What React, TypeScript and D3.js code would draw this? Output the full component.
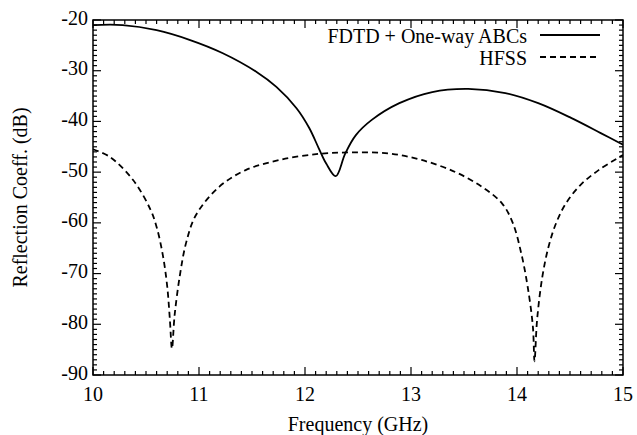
import React from "react";
import * as d3 from "d3";

const fdtdFreq = [10.0, 10.28, 10.6, 10.91, 11.22, 11.54, 11.73, 11.92, 12.04, 12.13, 12.2, 12.29, 12.38, 12.48, 12.63, 12.89, 13.2, 13.54, 13.89, 14.2, 14.51, 14.79, 15.0];
const fdtdVal = [-21.0, -21.0, -22.0, -23.9, -26.5, -30.2, -33.2, -37.4, -41.3, -45.3, -48.3, -50.8, -46.3, -42.7, -39.7, -36.4, -34.2, -33.6, -34.4, -36.4, -39.3, -42.3, -44.6];

const hfssFreq = [10.0, 10.16, 10.38, 10.54, 10.6, 10.66, 10.7, 10.725, 10.745, 10.77, 10.82, 10.88, 10.97, 11.19, 11.44, 11.76, 12.13, 12.45, 12.79, 13.1, 13.42, 13.67, 13.86, 13.96, 14.04, 14.1, 14.15, 14.165, 14.19, 14.24, 14.3, 14.37, 14.46, 14.6, 14.77, 15.0];
const hfssVal = [-45.5, -47.0, -51.6, -57.3, -60.8, -66.5, -72.5, -79.0, -84.8, -78.2, -70.3, -63.8, -58.5, -52.9, -49.6, -47.6, -46.4, -46.1, -46.3, -47.6, -50.0, -52.9, -56.2, -60.0, -66.0, -72.5, -80.5, -87.3, -79.0, -70.5, -64.5, -60.0, -56.2, -52.5, -49.6, -46.6];

const xTicks = [10, 11, 12, 13, 14, 15];
const yTicks = [-20, -30, -40, -50, -60, -70, -80, -90];
const legendLabels = ["FDTD + One-way ABCs", "HFSS"];

const W = 637, H = 435;
const L = 93, R = 623, T = 20, B = 375;
const FONT = "'Liberation Serif', Tinos, 'Times New Roman', Times, 'DejaVu Serif', serif";

export default function App() {
  const x = d3.scaleLinear().domain([10, 15]).range([L, R]);
  const y = d3.scaleLinear().domain([-90, -20]).range([B, T]);
  const line = d3.line<[number, number]>().x(d => x(d[0])).y(d => y(d[1])).curve(d3.curveCatmullRom.alpha(0.5));
  const fd = fdtdFreq.map((f, i) => [f, fdtdVal[i]] as [number, number]);
  const hf = hfssFreq.map((f, i) => [f, hfssVal[i]] as [number, number]);

  const xMinor = d3.range(0, 51).map(i => 10 + i * 0.1).filter((_, i) => i % 10 !== 0);
  const yMinor = d3.range(0, 71).map(i => -90 + i).filter((_, i) => i % 10 !== 0);
  const textStyle = { fontFamily: FONT, fontSize: "20px" };

  return (
    <svg width={W} height={H} style={{ position: "absolute", left: 0, top: 0, background: "#fff" }}>
      <defs>
        <clipPath id="clip"><rect x={L} y={T} width={R - L} height={B - T} /></clipPath>
      </defs>
      <g stroke="#000" strokeWidth={1.2}>
        {xTicks.map(t => (
          <g key={"xt" + t}>
            <line x1={x(t)} x2={x(t)} y1={B} y2={B - 8} />
            <line x1={x(t)} x2={x(t)} y1={T} y2={T + 8} />
          </g>
        ))}
        {xMinor.map(t => (
          <g key={"xm" + t}>
            <line x1={x(t)} x2={x(t)} y1={B} y2={B - 4} />
            <line x1={x(t)} x2={x(t)} y1={T} y2={T + 4} />
          </g>
        ))}
        {yTicks.map(t => (
          <g key={"yt" + t}>
            <line x1={L} x2={L + 8} y1={y(t)} y2={y(t)} />
            <line x1={R} x2={R - 8} y1={y(t)} y2={y(t)} />
          </g>
        ))}
        {yMinor.map(t => (
          <g key={"ym" + t}>
            <line x1={L} x2={L + 4} y1={y(t)} y2={y(t)} />
            <line x1={R} x2={R - 4} y1={y(t)} y2={y(t)} />
          </g>
        ))}
      </g>
      <rect x={L} y={T} width={R - L} height={B - T} fill="none" stroke="#000" strokeWidth={1.5} />
      <g clipPath="url(#clip)" fill="none" stroke="#000" strokeWidth={1.8}>
        <path d={line(fd) || ""} />
        <path d={line(hf) || ""} strokeDasharray="6 4" />
      </g>
      <g fill="#000">
        {xTicks.map(t => (
          <text key={"xl" + t} x={x(t)} y={B + 21} textAnchor="middle" dominantBaseline="middle" style={textStyle}>{t}</text>
        ))}
        {yTicks.map(t => (
          <text key={"yl" + t} x={L - 5} y={y(t)} textAnchor="end" dominantBaseline="middle" style={textStyle}>{t}</text>
        ))}
        <text x={(L + R) / 2} y={426} textAnchor="middle" dominantBaseline="middle" style={textStyle}>Frequency (GHz)</text>
        <text transform={`translate(22,${(T + B) / 2}) rotate(-90)`} textAnchor="middle" dominantBaseline="middle" style={textStyle}>Reflection Coeff. (dB)</text>
        <text x={527} y={38} textAnchor="end" dominantBaseline="middle" style={textStyle}>{legendLabels[0]}</text>
        <text x={527} y={60} textAnchor="end" dominantBaseline="middle" style={textStyle}>{legendLabels[1]}</text>
      </g>
      <g stroke="#000" strokeWidth={1.8}>
        <line x1={540} x2={600} y1={35} y2={35} />
        <line x1={540} x2={600} y1={57} y2={57} strokeDasharray="6 4" />
      </g>
    </svg>
  );
}
